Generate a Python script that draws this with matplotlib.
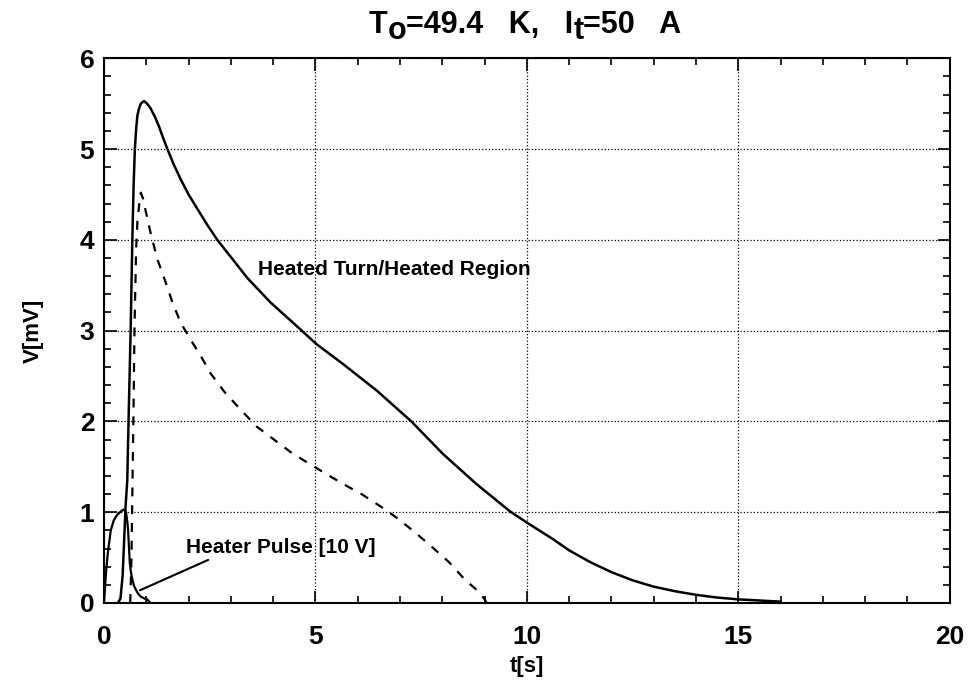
import matplotlib
matplotlib.use("Agg")
import matplotlib.pyplot as plt
from matplotlib.ticker import MultipleLocator
from matplotlib.transforms import IdentityTransform

plt.rcParams['font.family'] = ['Liberation Sans', 'DejaVu Sans']
plt.rcParams['font.weight'] = 'bold'

# heated turn / heated region (solid)
t_turn = [0.33, 0.39, 0.44, 0.47, 0.51, 0.55, 0.59, 0.63, 0.67, 0.70, 0.73,
          0.76, 0.79, 0.83, 0.87, 0.945, 1.02, 1.10, 1.20, 1.30, 1.40, 1.50,
          1.65, 1.81, 2.0, 2.21, 2.45, 2.68, 3.07, 3.39, 3.94, 4.63, 5.03,
          5.66, 6.45, 7.27, 8.02, 8.81, 9.6, 10.02, 10.63, 11.0, 11.5, 12.0,
          12.5, 13.0, 13.5, 14.0, 14.5, 15.0, 16.0]
v_turn = [0.0, 0.05, 0.3, 0.62, 1.06, 1.35, 2.2, 3.0, 4.0, 4.6, 5.0,
          5.22, 5.37, 5.45, 5.5, 5.53, 5.5, 5.45, 5.36, 5.25, 5.12, 5.0,
          4.83, 4.67, 4.5, 4.34, 4.16, 4.0, 3.77, 3.58, 3.31, 3.02, 2.85,
          2.63, 2.34, 2.0, 1.64, 1.31, 1.01, 0.88, 0.70, 0.58, 0.45, 0.34,
          0.25, 0.18, 0.13, 0.09, 0.06, 0.04, 0.015]

# second tap (dashed)
t_dash = [0.62, 0.65, 0.67, 0.70, 0.72, 0.76, 0.79, 0.83, 0.87, 0.92, 0.985,
          1.10, 1.26, 1.46, 1.62, 1.81, 2.05, 2.29, 2.52, 2.84, 3.23, 3.62,
          4.02, 4.45, 4.87, 5.26, 5.66, 6.09, 6.52, 6.92, 7.35, 7.75, 8.16,
          8.53, 8.8, 8.99, 9.05]
v_dash = [0.0, 0.5, 1.2, 2.2, 3.0, 3.9, 4.2, 4.38, 4.52, 4.46, 4.32,
          4.08, 3.79, 3.53, 3.31, 3.09, 2.90, 2.72, 2.53, 2.33, 2.13, 1.94,
          1.80, 1.65, 1.53, 1.42, 1.31, 1.20, 1.07, 0.94, 0.78, 0.62, 0.45,
          0.26, 0.15, 0.05, 0.0]

# heater pulse (solid)
t_heat = [0.0, 0.02, 0.05, 0.09, 0.16, 0.23, 0.31, 0.4, 0.47, 0.52, 0.55,
          0.57, 0.59, 0.61, 0.64, 0.67, 0.71, 0.75, 0.81, 0.87, 0.95, 1.02, 1.1]
v_heat = [0.0, 0.14, 0.35, 0.55, 0.8, 0.91, 0.97, 1.01, 1.03, 1.0, 0.9,
          0.8, 0.62, 0.44, 0.33, 0.26, 0.19, 0.15, 0.1, 0.07, 0.05, 0.04, 0.0]

fig = plt.figure(figsize=(9.72, 6.86), dpi=100)
ax = fig.add_axes([0.107, 0.121, 0.870, 0.794])

ax.plot(t_turn, v_turn, color='black', linewidth=1.8)
ax.plot(t_dash, v_dash, color='black', linewidth=1.6, linestyle=(0, (4, 4)))
ax.plot(t_heat, v_heat, color='black', linewidth=1.6)

ax.text(3.64, 3.67, 'Heated Turn/Heated Region', fontsize=15, fontweight='bold',
        ha='left', va='center')
ax.annotate('Heater Pulse [10 V]', xy=(0.85, 0.14), xytext=(1.94, 0.61),
            fontsize=15, fontweight='bold', ha='left', va='center',
            arrowprops=dict(arrowstyle='-', color='black', linewidth=1.5,
                            shrinkA=0, shrinkB=0, relpos=(0.15, 0.0)))

ax.set_xlim(0, 20)
ax.set_ylim(0, 6)
ax.xaxis.set_major_locator(MultipleLocator(5))
ax.xaxis.set_minor_locator(MultipleLocator(1))
ax.yaxis.set_major_locator(MultipleLocator(1))
ax.yaxis.set_minor_locator(MultipleLocator(0.2))
ax.tick_params(which='both', direction='in', top=True, right=True,
               labelsize=19, width=1.2)
ax.tick_params(which='major', length=9)
ax.tick_params(which='minor', length=5)
ax.tick_params(axis='x', which='major', pad=16)
ax.tick_params(axis='y', which='major', pad=7)
for s in ax.spines.values():
    s.set_linewidth(1.5)
ax.grid(True, which='major', linestyle=':', color='black', linewidth=0.9)

ax.set_xlabel('t[s]', fontsize=16, fontweight='bold', labelpad=5)
ax.set_ylabel('V[mV]', fontsize=16, fontweight='bold', labelpad=26)

# title with full-size lowered subscripts, placed piece by piece in pixels
title_parts = [('T', 0), ('o', -6), ('=49.4   K,   I', 0), ('t', -6), ('=50   A', 0)]
renderer = fig.canvas.get_renderer()
texts = []
for s, dy in title_parts:
    txt = fig.text(0, 0, s, fontsize=22, fontweight='bold', va='baseline',
                   ha='left', transform=IdentityTransform())
    texts.append((txt, dy))
widths = [t.get_window_extent(renderer).width for t, _ in texts]
x = 525 - sum(widths) / 2
base = 686 - 33
for (txt, dy), w in zip(texts, widths):
    txt.set_position((x, base + dy))
    x += w

fig.savefig('out.png', dpi=100)
